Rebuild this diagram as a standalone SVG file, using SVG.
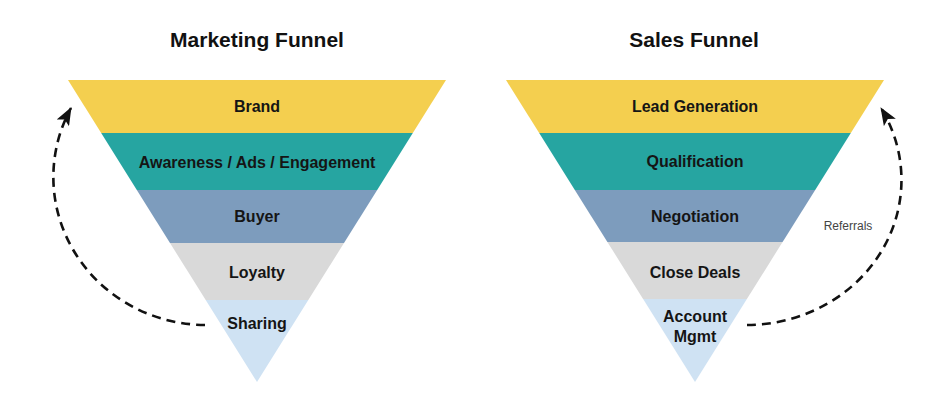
<svg xmlns="http://www.w3.org/2000/svg" width="940" height="407" viewBox="0 0 940 407">
<defs>
<style>
.title{font-family:"Liberation Sans",Arial,sans-serif;font-weight:bold;font-size:21px;fill:#111;text-anchor:middle}
.lbl{font-family:"Liberation Sans",Arial,sans-serif;font-weight:bold;font-size:16px;fill:#151515;text-anchor:middle}
.note{font-family:"Liberation Sans",Arial,sans-serif;font-size:12px;fill:#444;text-anchor:middle}
.yel{fill:#F4CF4F}.teal{fill:#26A5A1}.blue{fill:#7D9CBD}.gray{fill:#D9D9D9}.lb{fill:#CFE2F3}
.conn{fill:none;stroke:#111;stroke-width:2.6;stroke-dasharray:9 6}
</style>
<marker id="ah" viewBox="0 0 18 14" refX="17" refY="7" markerWidth="18" markerHeight="14" markerUnits="userSpaceOnUse" orient="auto">
<path d="M0,0 L18,7 L0,14 L4,7 Z" fill="#111"/>
</marker>
</defs>
<rect width="940" height="407" fill="#fff"/>
<text class="title" x="257" y="47">Marketing Funnel</text>
<text class="title" x="694" y="47">Sales Funnel</text>
<g id="m-brand"><polygon class="yel" points="68,80 446,80 412.8,133 101.2,133"/><text class="lbl" x="257" y="112">Brand</text></g>
<g id="m-awareness"><polygon class="teal" points="101.2,133 412.8,133 377.2,190 136.8,190"/><text class="lbl" x="257" y="168">Awareness / Ads / Engagement</text></g>
<g id="m-buyer"><polygon class="blue" points="136.8,190 377.2,190 344,243 170,243"/><text class="lbl" x="257" y="222">Buyer</text></g>
<g id="m-loyalty"><polygon class="gray" points="170,243 344,243 308.3,300 205.7,300"/><text class="lbl" x="257" y="278">Loyalty</text></g>
<g id="m-sharing"><polygon class="lb" points="205.7,300 308.3,300 257,382"/><text class="lbl" x="257" y="329">Sharing</text></g>
<g id="s-lead"><polygon class="yel" points="506,80 884,80 850.8,133 539.2,133"/><text class="lbl" x="695" y="112">Lead Generation</text></g>
<g id="s-qual"><polygon class="teal" points="539.2,133 850.8,133 815.2,190 574.8,190"/><text class="lbl" x="695" y="167">Qualification</text></g>
<g id="s-neg"><polygon class="blue" points="574.8,190 815.2,190 782.6,242 607.4,242"/><text class="lbl" x="695" y="222">Negotiation</text></g>
<g id="s-close"><polygon class="gray" points="607.4,242 782.6,242 746.9,299 643.1,299"/><text class="lbl" x="695" y="278">Close Deals</text></g>
<g id="s-account"><polygon class="lb" points="643.1,299 746.9,299 695,382"/><text class="lbl" x="695" y="322">Account</text><text class="lbl" x="695" y="342">Mgmt</text></g>
<g id="connectors">
<path class="conn" d="M205,325 A153,148 0 0 1 71,108" marker-end="url(#ah)"/>
<path class="conn" d="M747,325 A155,145 0 0 0 881,108" marker-end="url(#ah)"/>
<text class="note" x="848" y="230">Referrals</text>
</g>
</svg>
